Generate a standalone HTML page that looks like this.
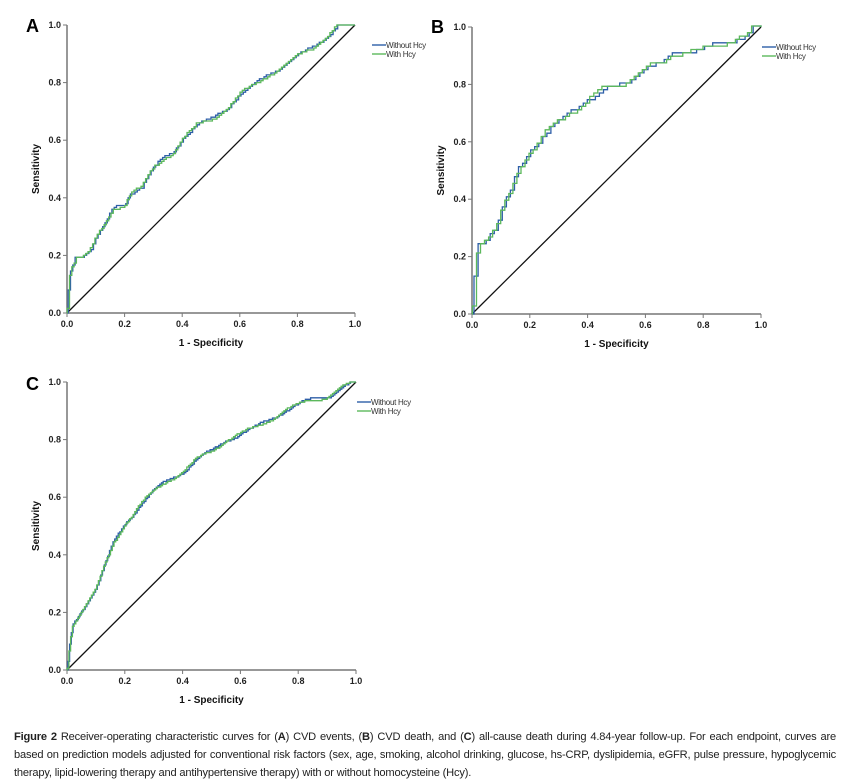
<!DOCTYPE html>
<html><head><meta charset="utf-8"><style>
body{margin:0;background:#fff;width:848px;height:780px;overflow:hidden;font-family:"Liberation Sans",sans-serif}
svg{position:absolute;left:0;top:0}
.t{font:bold 9px "Liberation Sans",sans-serif;fill:#222}
.at{font:bold 10px "Liberation Sans",sans-serif;fill:#111}
.lg{font:8px "Liberation Sans",sans-serif;fill:#333;letter-spacing:-0.3px}
.L{font:bold 18px "Liberation Sans",sans-serif;fill:#000}
#cap{position:absolute;left:14px;top:728px;width:822px;font-size:11.1px;line-height:18px;color:#222;text-align:justify;letter-spacing:-0.18px;font-family:"Liberation Sans Narrow","Liberation Sans",sans-serif}
</style></head><body>
<svg id="s" width="848" height="720" xmlns="http://www.w3.org/2000/svg"></svg>
<div id="cap"><b>Figure 2</b> Receiver-operating characteristic curves for (<b>A</b>) CVD events, (<b>B</b>) CVD death, and (<b>C</b>) all-cause death during 4.84-year follow-up. For each endpoint, curves are based on prediction models adjusted for conventional risk factors (sex, age, smoking, alcohol drinking, glucose, hs-CRP, dyslipidemia, eGFR, pulse pressure, hypoglycemic therapy, lipid-lowering therapy and antihypertensive therapy) with or without homocysteine (Hcy).</div>
<script>
const s=document.getElementById('s');let h='';
const panels=[
{L:'A',lx:26,ly:32,x0:67,x1:355,y0:313,y1:25,lgx:372,lgy:45,st:0.008,
 p:[[0,0],[0.005,0.1],[0.01,0.14],[0.03,0.2],[0.05,0.2],[0.08,0.22],[0.1,0.26],[0.13,0.3],[0.16,0.36],[0.2,0.38],[0.22,0.42],[0.26,0.44],[0.3,0.5],[0.34,0.54],[0.37,0.56],[0.4,0.61],[0.45,0.65],[0.5,0.67],[0.55,0.71],[0.6,0.76],[0.65,0.79],[0.7,0.83],[0.8,0.89],[0.85,0.92],[0.9,0.96],[0.94,1.0],[1,1]]},
{L:'B',lx:431,ly:33,x0:472,x1:761,y0:314,y1:27,lgx:762,lgy:47,st:0.014,
 p:[[0,0],[0.005,0.1],[0.01,0.18],[0.02,0.24],[0.05,0.27],[0.08,0.3],[0.1,0.36],[0.13,0.42],[0.16,0.5],[0.2,0.57],[0.25,0.63],[0.3,0.67],[0.35,0.71],[0.4,0.75],[0.45,0.78],[0.5,0.79],[0.55,0.82],[0.6,0.86],[0.65,0.87],[0.7,0.91],[0.8,0.92],[0.85,0.94],[0.95,0.97],[0.97,1],[1,1]]},
{L:'C',lx:26,ly:390,x0:67,x1:356,y0:670,y1:382,lgx:357,lgy:402,st:0.006,
 p:[[0,0],[0.01,0.1],[0.02,0.16],[0.05,0.21],[0.1,0.28],[0.13,0.36],[0.16,0.44],[0.2,0.51],[0.25,0.57],[0.3,0.62],[0.35,0.66],[0.4,0.69],[0.45,0.73],[0.5,0.76],[0.55,0.8],[0.6,0.82],[0.65,0.84],[0.7,0.87],[0.75,0.9],[0.8,0.92],[0.85,0.94],[0.9,0.95],[0.95,0.98],[1,1]]}];
function interp(p,x){for(let i=1;i<p.length;i++){if(x<=p[i][0]){const a=p[i-1],b=p[i];return a[1]+(b[1]-a[1])*(x-a[0])/(b[0]-a[0]||1);}}return 1;}
for(const P of panels){
 const X=v=>P.x0+v*(P.x1-P.x0),Y=v=>P.y0-v*(P.y0-P.y1);
 h+=`<text class="L" x="${P.lx}" y="${P.ly}">${P.L}</text>`;
 h+=`<line x1="${P.x0}" y1="${P.y1}" x2="${P.x0}" y2="${P.y0}" stroke="#777" stroke-width="1.5"/><line x1="${P.x0}" y1="${P.y0}" x2="${P.x1}" y2="${P.y0}" stroke="#777" stroke-width="1.5"/>`;
 for(let i=0;i<=5;i++){const v=i/5,t=v.toFixed(1);
  h+=`<line x1="${X(v)}" y1="${P.y0}" x2="${X(v)}" y2="${P.y0+4}" stroke="#777"/><text class="t" x="${X(v)}" y="${P.y0+14}" text-anchor="middle">${t}</text>`;
  h+=`<line x1="${P.x0-4}" y1="${Y(v)}" x2="${P.x0}" y2="${Y(v)}" stroke="#777"/><text class="t" x="${P.x0-6}" y="${Y(v)+3}" text-anchor="end">${t}</text>`;}
 h+=`<text class="at" x="${(P.x0+P.x1)/2}" y="${P.y0+33}" text-anchor="middle">1 - Specificity</text>`;
 h+=`<text class="at" transform="translate(${P.x0-28},${(P.y0+P.y1)/2}) rotate(-90)" text-anchor="middle">Sensitivity</text>`;
 h+=`<line x1="${X(0)}" y1="${Y(0)}" x2="${X(1)}" y2="${Y(1)}" stroke="#111" stroke-width="1.3"/>`;
 const mk=(ph,dy)=>{let d=`M${X(0)},${Y(0)}`;let py=0;const q=P.st;
   for(let x=ph*q;x<=1.0001;x+=q){let y=Math.min(1,Math.max(0,interp(P.p,x)+dy*Math.sin(x*37+ph*5)));y=Math.max(py,Math.round(y/q*1.2)*q/1.2);if(x<0.02)y=interp(P.p,x);
     d+=` L${X(x).toFixed(1)},${Y(py).toFixed(1)} L${X(x).toFixed(1)},${Y(y).toFixed(1)}`;py=y;}
   d+=` L${X(1)},${Y(py)} L${X(1)},${Y(1)}`;return d;};
 h+=`<path d="${mk(0.5,0.008)}" fill="none" stroke="#2e5fa8" stroke-width="1.3"/>`;
 h+=`<path d="${mk(0.1,-0.008)}" fill="none" stroke="#5cb85c" stroke-width="1.3"/>`;
 h+=`<line x1="${P.lgx}" y1="${P.lgy}" x2="${P.lgx+14}" y2="${P.lgy}" stroke="#2e5fa8" stroke-width="1.4"/><text class="lg" x="${P.lgx+14}" y="${P.lgy+3}">Without Hcy</text>`;
 h+=`<line x1="${P.lgx}" y1="${P.lgy+9}" x2="${P.lgx+14}" y2="${P.lgy+9}" stroke="#5cb85c" stroke-width="1.4"/><text class="lg" x="${P.lgx+14}" y="${P.lgy+12}">With Hcy</text>`;
}
s.innerHTML=h;
</script>
</body></html>
